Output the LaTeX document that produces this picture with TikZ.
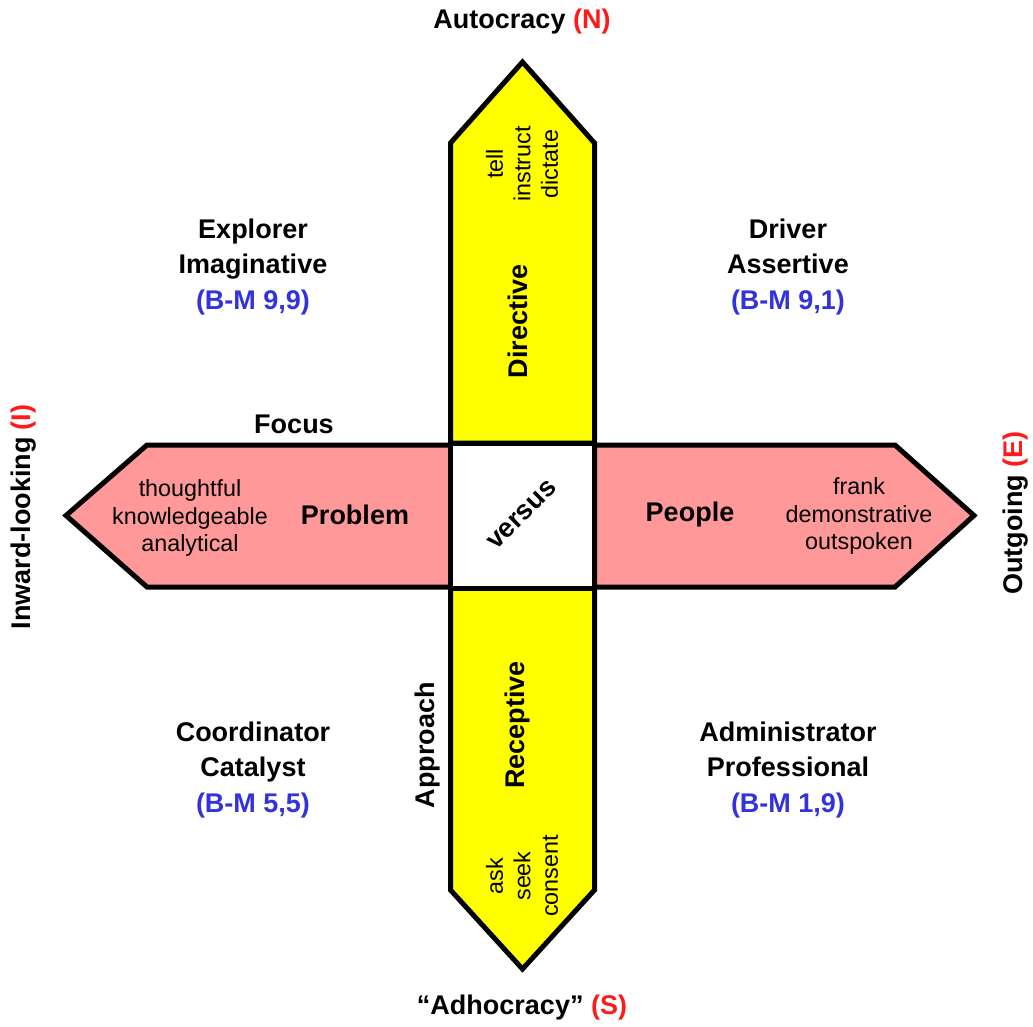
\documentclass[tikz,border=0pt]{standalone}
\usepackage{fontspec}
\setmainfont{Liberation Sans}

\definecolor{armyellow}{RGB}{255,255,0}
\definecolor{armpink}{RGB}{255,153,153}
\definecolor{gridblue}{RGB}{51,51,221}
\definecolor{polered}{RGB}{255,25,25}

\newcommand{\pole}[1]{\textcolor{polered}{(#1)}}
\newcommand{\bmgrid}[1]{\textcolor{gridblue}{(B-M #1)}}

\tikzset{every picture/.style={line width=0.75pt}}
\tikzset{
  arm/.style={draw=black, line width=3.75pt, line join=miter},
  big/.style={font=\fontsize{20.25}{26.6}\selectfont\bfseries, align=center, inner sep=0pt},
  small/.style={font=\fontsize{17.5}{20.6}\selectfont, align=center, inner sep=0pt},
}

\begin{document}
\begin{tikzpicture}[x=0.75pt,y=0.75pt,yscale=-1]
\useasboundingbox (0,0) rectangle (1033,1026);

%Shape: Arrow up
\draw [arm, fill=armyellow] (450.5,443) -- (450.5,143) -- (522.5,62) -- (594.5,143) -- (594.5,443) -- cycle ;
%Shape: Arrow down
\draw [arm, fill=armyellow] (450.5,588) -- (450.5,890) -- (522.5,969) -- (594.5,890) -- (594.5,588) -- cycle ;
%Shape: Arrow left
\draw [arm, fill=armpink] (450.5,445) -- (147,445) -- (66,515.5) -- (147,587) -- (450.5,587) -- cycle ;
%Shape: Arrow right
\draw [arm, fill=armpink] (594.5,445) -- (895,445) -- (974,515.5) -- (895,587) -- (594.5,587) -- cycle ;
%Shape: Square
\draw [arm, fill=white] (450.5,443) rectangle (594.5,588) ;

% Text Node
\draw (522,22) node (autocracy) [big] {Autocracy \pole{N}};
% Text Node
\draw (522,1008) node (adhocracy) [big] {“Adhocracy” \pole{S}};
% Text Node
\draw (24,517) node (inward) [big, rotate=90] {Inward-looking \pole{I}};
% Text Node
\draw (1016,513) node (outgoing) [big, rotate=90] {Outgoing \pole{E}};

% Text Node
\draw (253,267) node (explorer) [big] {Explorer\\Imaginative\\\bmgrid{9,9}};
% Text Node
\draw (788,267) node (driver) [big] {Driver\\Assertive\\\bmgrid{9,1}};
% Text Node
\draw (253,770) node (coordinator) [big] {Coordinator\\Catalyst\\\bmgrid{5,5}};
% Text Node
\draw (788,770) node (administrator) [big] {Administrator\\Professional\\\bmgrid{1,9}};

% Text Node
\draw (294,424) node (focus) [big] {Focus};
% Text Node
\draw (428,745) node (approach) [big, rotate=90] {Approach};

% Text Node
\draw (518,321) node (directive) [big, rotate=90] {Directive};
% Text Node
\draw (522,164) node (tell) [small, rotate=90] {tell\\instruct\\dictate};
% Text Node
\draw (518,725) node (receptive) [big, rotate=90] {Receptive};
% Text Node
\draw (522,876) node (ask) [small, rotate=90] {ask\\seek\\consent};

% Text Node
\draw (355,515) node (problem) [big] {Problem};
% Text Node
\draw (190,518) node (thoughtful) [small] {thoughtful\\knowledgeable\\analytical};
% Text Node
\draw (690,515) node (people) [big] {People};
% Text Node
\draw (859,516) node (frank) [small] {frank\\demonstrative\\outspoken};
% Text Node
\draw (522,515) node (versus) [big, rotate=45] {versus};

\end{tikzpicture}
\end{document}
